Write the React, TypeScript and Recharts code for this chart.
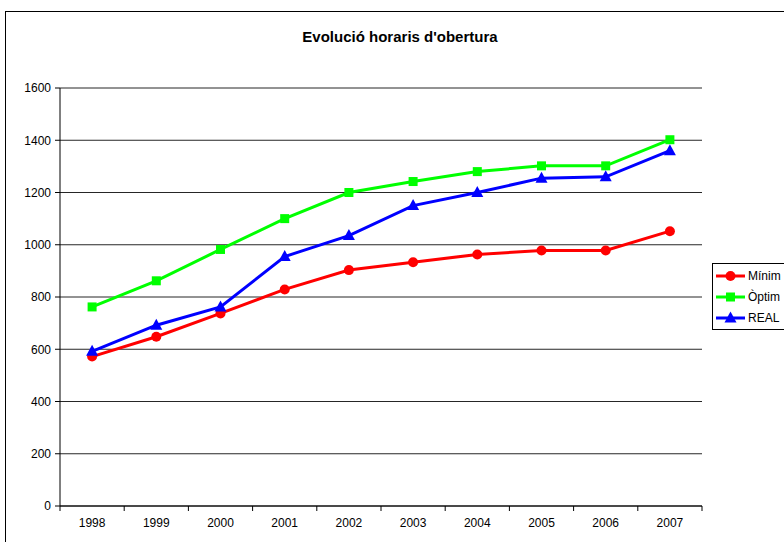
import React from "react";
import {
    LineChart,
    Line,
    XAxis,
    YAxis,
    CartesianGrid
} from "recharts";

// Years shown on the category axis
const years = [1998, 1999, 2000, 2001, 2002, 2003, 2004, 2005, 2006, 2007];

// Opening hours per year
const minim = [572, 648, 737, 829, 903, 933, 963, 978, 978, 1052];
const optim = [762, 862, 982, 1100, 1200, 1242, 1280, 1302, 1302, 1402];
const real = [592, 692, 762, 955, 1035, 1150, 1200, 1255, 1260, 1360];

const yTicks = [0, 200, 400, 600, 800, 1000, 1200, 1400, 1600];

const W = 784;
const H = 542;
const PLOT_LEFT = 60;
const PLOT_RIGHT = 702;
const BAND = (PLOT_RIGHT - PLOT_LEFT) / years.length;

const FONT = "'Liberation Sans', Arial, sans-serif";

const data = years.map((y, i) => ({
    year: y,
    minim: minim[i],
    optim: optim[i],
    real: real[i]
}));

// tick lines sit between the years, like Excel's category axis
const xTicks = [...years.map((y) => y - 0.5), years[years.length - 1] + 0.5];

const seriesDefs = [
    { key: "minim", label: "Mínim", color: "#ff0000", marker: "circle" },
    { key: "optim", label: "Òptim", color: "#00ff00", marker: "square" },
    { key: "real", label: "REAL", color: "#0000ff", marker: "triangle" }
];

function Marker({ cx, cy, kind, color }: { cx: number; cy: number; kind: string; color: string }) {
    if (kind === "circle") {
        return <circle cx={cx} cy={cy} r={5} fill={color} stroke="none" />;
    }
    if (kind === "square") {
        return <rect x={cx - 4.5} y={cy - 4.5} width={9} height={9} fill={color} stroke="none" />;
    }
    return (
        <polygon
            points={`${cx},${cy - 6.5} ${cx + 6},${cy + 4.5} ${cx - 6},${cy + 4.5}`}
            fill={color}
            stroke="none"
        />
    );
}

function YearTick(props: any) {
    const { x, y, payload } = props;
    const v = payload.value as number;
    if (v >= years[years.length - 1]) return null;
    return (
        <text
            x={x + BAND / 2}
            y={y + 14}
            textAnchor="middle"
            fontSize={12}
            fontFamily={FONT}
            fill="#000"
        >
            {String(v + 0.5)}
        </text>
    );
}

// legend drawn outside recharts so it does not shrink the plot area
function LegendBox() {
    return (
        <div
            style={{
                position: "absolute",
                left: 712,
                top: 263,
                border: "1px solid #000",
                background: "#fff",
                width: 100,
                padding: "1px 0 1px 0",
                fontFamily: FONT,
                fontSize: 12
            }}
        >
            {seriesDefs.map((s) => (
                <div key={s.key} style={{ display: "flex", alignItems: "center", height: 21 }}>
                    <svg width={34} height={16} style={{ display: "block" }}>
                        <line x1={3} y1={8} x2={32} y2={8} stroke={s.color} strokeWidth={3} />
                        <Marker cx={17.5} cy={8} kind={s.marker} color={s.color} />
                    </svg>
                    <span style={{ marginLeft: 1 }}>{s.label}</span>
                </div>
            ))}
        </div>
    );
}

export default function App() {
    return (
        <div
            style={{
                position: "fixed",
                left: 0,
                top: 0,
                width: W,
                height: H,
                overflow: "hidden",
                background: "#fff"
            }}
        >
            <div
                style={{
                    position: "absolute",
                    left: 5,
                    top: 11,
                    width: 900,
                    height: 700,
                    border: "1px solid #000"
                }}
            />
            <div
                style={{
                    position: "absolute",
                    left: 0,
                    width: 800,
                    top: 28,
                    textAlign: "center",
                    fontFamily: FONT,
                    fontWeight: "bold",
                    fontSize: 15
                }}
            >
                Evolució horaris d'obertura
            </div>
            <div style={{ position: "absolute", left: 0, top: 0 }}>
                <LineChart
                    width={W}
                    height={H}
                    data={data}
                    margin={{ top: 88, right: W - PLOT_RIGHT, left: 8, bottom: 6 }}
                >
                    <CartesianGrid horizontal={true} vertical={false} stroke="#000" strokeOpacity={0.85} />
                    <XAxis
                        dataKey="year"
                        type="number"
                        domain={[xTicks[0], xTicks[xTicks.length - 1]]}
                        ticks={xTicks}
                        interval={0}
                        height={30}
                        tick={<YearTick />}
                        tickSize={5}
                        axisLine={{ stroke: "#000" }}
                        tickLine={{ stroke: "#000" }}
                    />
                    <YAxis
                        domain={[0, 1600]}
                        ticks={yTicks}
                        interval={0}
                        width={52}
                        tickSize={5}
                        tickMargin={4}
                        axisLine={{ stroke: "#000" }}
                        tickLine={{ stroke: "#000" }}
                        tick={{ fill: "#000", fontSize: 12, fontFamily: FONT }}
                    />
                    {seriesDefs.map((s) => (
                        <Line
                            key={s.key}
                            dataKey={s.key}
                            name={s.label}
                            type="linear"
                            stroke={s.color}
                            strokeWidth={3}
                            isAnimationActive={false}
                            dot={(p: any) => (
                                <Marker key={`${s.key}-${p.index}`} cx={p.cx} cy={p.cy} kind={s.marker} color={s.color} />
                            )}
                            activeDot={false}
                        />
                    ))}
                </LineChart>
            </div>
            <LegendBox />
        </div>
    );
}
